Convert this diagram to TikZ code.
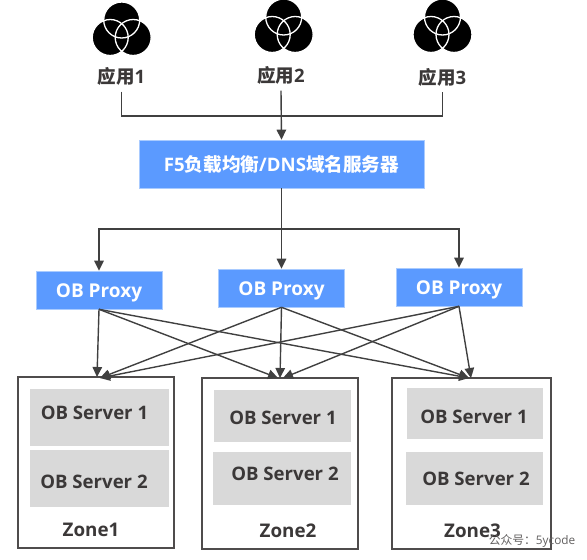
\documentclass[tikz,border=0pt]{standalone}
\usepackage{fontspec}
\setmainfont{Open Sans}
\newfontfamily\cjk{Noto Sans CJK SC}
\usetikzlibrary{arrows.meta,positioning}
\definecolor{bluebox}{HTML}{5B9AFF}
\definecolor{bluerim}{HTML}{A9CBFF}
\definecolor{grayfill}{HTML}{D9D9D9}
\definecolor{ink}{HTML}{3B3838}
\definecolor{wire}{HTML}{404040}
\tikzset{
  x=1pt,y=-1pt,
  blue box/.style={draw=bluerim,line width=.6pt,fill=bluebox,text=white,font=\bfseries,inner sep=0pt},
  proxy/.style={blue box,minimum width=126pt,minimum height=38pt,text height=14pt,text depth=0pt,font=\bfseries\fontsize{19}{22}\selectfont},
  zone/.style={draw=ink!90,line width=1.3pt,fill=white,inner sep=0pt},
  server/.style={fill=grayfill,draw=none,inner sep=0pt},
  srvtext/.style={text=ink,font=\bfseries\fontsize{18.6}{22}\selectfont,inner sep=0pt},
  zonetext/.style={text=ink,font=\bfseries\fontsize{18.8}{22}\selectfont,inner sep=0pt},
  applabel/.style={text=ink,font=\bfseries\fontsize{18.5}{22}\selectfont,inner sep=0pt,minimum height=30pt},
  wire line/.style={draw=wire,line width=1.4pt},
  wire arrow/.style={wire line,-{Triangle[length=10pt,width=9.5pt]}},
  circ/.style={fill=black,draw=none},
  ring/.style={draw=white,line width=1.3pt,fill=none}
}
\newcommand{\venn}[2]{%
  \begin{scope}[shift={(#1,#2)}]
    \fill[circ] (0,0) circle[radius=18pt];
    \fill[circ] (-11.5,17.5) circle[radius=18pt];
    \fill[circ] (11.5,17.5) circle[radius=18pt];
    \draw[ring] (0,0) circle[radius=18pt];
    \draw[ring] (-11.5,17.5) circle[radius=18pt];
    \draw[ring] (11.5,17.5) circle[radius=18pt];
  \end{scope}}
\begin{document}
\begin{tikzpicture}
\useasboundingbox (0,0) rectangle (587,560);
\venn{121.7}{20}
\venn{283.7}{17}
\venn{442.5}{17}

\node[applabel] (app1) at (121.5,76.5) {{\cjk 应用}1};
\node[applabel] (app2) at (281,75.5) {{\cjk 应用}2};
\node[applabel] (app3) at (442.5,77) {{\cjk 应用}3};

\node[blue box,minimum width=285pt,minimum height=48pt,font=\bfseries\fontsize{18.6}{22}\selectfont] (lb) at (281.5,164) {F5{\cjk 负载均衡}/DNS{\cjk 域名服务器}};

\node[proxy] (p1) at (99,290) {OB Proxy};
\node[proxy] (p2) at (281.5,288) {OB Proxy};
\node[proxy] (p3) at (459,287) {OB Proxy};

\node[zone,minimum width=156pt,minimum height=171pt] (z1) at (96,462.5) {};
\node[zone,minimum width=156pt,minimum height=171pt] (z2) at (280,463.5) {};
\node[zone,minimum width=159pt,minimum height=171pt] (z3) at (471.5,463.5) {};

\node[server,minimum width=139pt,minimum height=57pt] (s11) at (99.5,417.5) {};
\node[server,minimum width=139pt,minimum height=57pt] (s12) at (99.5,478.5) {};
\node[server,minimum width=137pt,minimum height=52pt] (s21) at (282.5,416) {};
\node[server,minimum width=138pt,minimum height=53pt] (s22) at (282,478.5) {};
\node[server,minimum width=136pt,minimum height=51pt] (s31) at (475,413.5) {};
\node[server,minimum width=137pt,minimum height=53pt] (s32) at (474.5,478.5) {};

\node[srvtext] (t11) at (94.5,413) {OB Server 1};
\node[srvtext] (t12) at (94,482) {OB Server 2};
\node[srvtext] (t21) at (283,418) {OB Server 1};
\node[srvtext] (t22) at (285,474) {OB Server 2};
\node[srvtext] (t31) at (474,417) {OB Server 1};
\node[srvtext] (t32) at (476,479) {OB Server 2};

\node[zonetext] (l1) at (91,529.5) {Zone1};
\node[zonetext] (l2) at (288,531) {Zone2};
\node[zonetext] (l3) at (472.5,531) {Zone3};

\node[text=ink!80,font=\fontsize{11.8}{14}\selectfont,inner sep=0pt] (wm) at (532,541) {{\cjk 公众号：}5ycode};

% bus from the applications
\coordinate (busL) at (app1.south |- 0,116);
\coordinate (busR) at (app3.south |- 0,116);
\draw[wire line] (app1.south) -- (busL) -- (busR) -- (app3.south);
\draw[wire arrow] (app2.south) -- (lb.north);

% load balancer to proxies
\coordinate (split) at (lb.south |- 0,229);
\draw[wire line] (lb.south) -- (split);
\draw[wire arrow] (split) -| (p1.north);
\draw[wire arrow] (split) -- (p2.north);
\draw[wire arrow] (split) -| (p3.north);

% proxies to zones
\coordinate (in1a) at (97,377);
\coordinate (in1b) at (100,378);
\coordinate (in2a) at (278,378);
\coordinate (in2b) at (280,378);
\coordinate (in2c) at (283,378);
\coordinate (in3a) at (469,378);
\coordinate (in3b) at (471,378);
\draw[wire arrow] (p1.south) -- (in1a);
\draw[wire arrow] (p1.south) -- (in2a);
\draw[wire arrow] (p1.south) -- (in3a);
\draw[wire arrow] (p2.south) -- (in1b);
\draw[wire arrow] (p2.south) -- (in2b);
\draw[wire arrow] (p2.south) -- (in3a);
\draw[wire arrow] (p3.south) -- (in1b);
\draw[wire arrow] (p3.south) -- (in2c);
\draw[wire arrow] (p3.south) -- (in3b);
\end{tikzpicture}
\end{document}
